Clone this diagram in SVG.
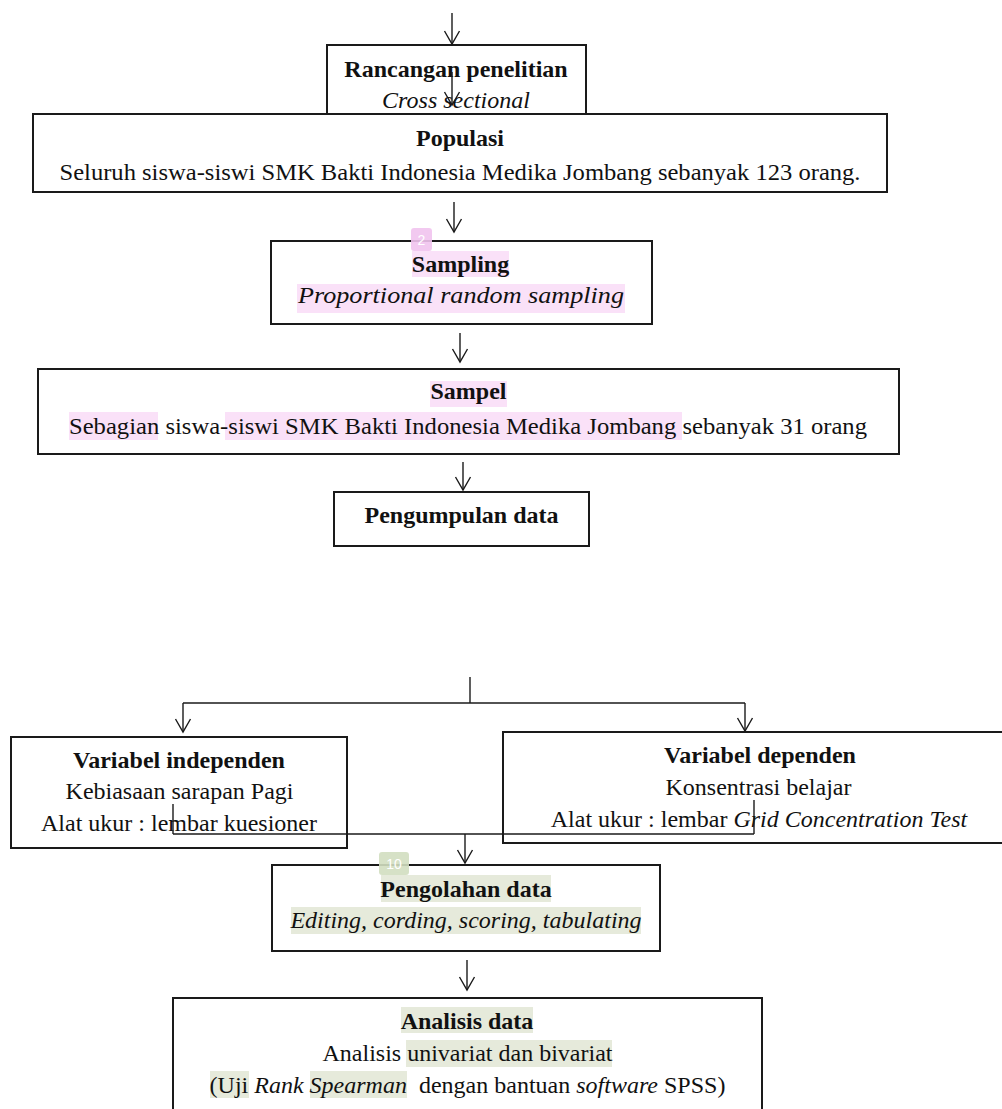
<svg xmlns="http://www.w3.org/2000/svg" width="1002" height="1109" viewBox="0 0 1002 1109">
<style>
  .box{fill:none;stroke:#1a1a1a;stroke-width:2}
  .conn{fill:none;stroke:#1a1a1a;stroke-width:1.4}
  .t{font-family:"Liberation Serif","Times New Roman",serif;font-size:24px;fill:#111;text-anchor:middle}
  .b{font-weight:bold}
  .i{font-style:italic}
  .hp{fill:#fae1f8}
  .hg{fill:#e6eadb}
  .badge{font-family:"Liberation Sans",Arial,sans-serif;font-size:14px;fill:#fff;text-anchor:middle}
</style>
<defs>
  <marker id="arr" markerUnits="userSpaceOnUse" markerWidth="20" markerHeight="20" viewBox="-15 -10 17 20" refX="0" refY="0" orient="auto" overflow="visible">
    <path d="M-13,-7.5 L0,0 L-13,7.5" fill="none" stroke="#1a1a1a" stroke-width="1.4"/>
  </marker>
</defs>
<rect width="1002" height="1109" fill="#fff"/>

<g id="rancangan">
  <rect class="box" x="327" y="45" width="259" height="69"/>
  <text class="t b" x="456" y="77">Rancangan penelitian</text>
  <text class="t i" x="456" y="108">Cross sectional</text>
</g>

<g id="populasi">
  <rect class="box" x="33" y="114" width="854" height="78"/>
  <text class="t b" x="460" y="146">Populasi</text>
  <text class="t" x="460" y="180" textLength="801" lengthAdjust="spacingAndGlyphs">Seluruh siswa-siswi SMK Bakti Indonesia Medika Jombang sebanyak 123 orang.</text>
</g>

<g id="sampling">
  <rect class="hp" x="412" y="251" width="97" height="26"/>
  <rect class="hp" x="297" y="284" width="328" height="29"/>
  <rect class="box" x="271" y="241" width="381" height="83"/>
  <text class="t b" x="460.5" y="272">Sampling</text>
  <text class="t i" x="461" y="303" textLength="326" lengthAdjust="spacingAndGlyphs">Proportional random sampling</text>
</g>

<g id="sampel">
  <rect class="hp" x="430" y="381" width="77" height="26"/>
  <rect class="hp" x="69" y="412" width="89" height="28"/>
  <rect class="hp" x="225" y="412" width="457" height="28"/>
  <rect class="box" x="38" y="369" width="861" height="85"/>
  <text class="t b" x="468.5" y="399">Sampel</text>
  <text class="t" x="468" y="434" textLength="798" lengthAdjust="spacingAndGlyphs">Sebagian siswa-siswi SMK Bakti Indonesia Medika Jombang sebanyak 31 orang</text>
</g>

<g id="pengumpulan">
  <rect class="box" x="334" y="492" width="255" height="54"/>
  <text class="t b" x="461.5" y="523">Pengumpulan data</text>
</g>

<g id="var-independen">
  <rect class="box" x="11" y="737" width="336" height="111"/>
  <text class="t b" x="179" y="768">Variabel independen</text>
  <text class="t" x="179.5" y="799">Kebiasaan sarapan Pagi</text>
  <text class="t" x="179" y="831">Alat ukur : lembar kuesioner</text>
</g>

<g id="var-dependen">
  <rect class="box" x="503" y="732" width="510" height="111"/>
  <text class="t b" x="760" y="763">Variabel dependen</text>
  <text class="t" x="758.5" y="795">Konsentrasi belajar</text>
  <text class="t" x="759" y="827">Alat ukur : lembar <tspan class="i">Grid Concentration Test</tspan></text>
</g>

<g id="pengolahan">
  <rect class="hg" x="381" y="875" width="170" height="27"/>
  <rect class="hg" x="291" y="907" width="350" height="27"/>
  <rect class="box" x="272" y="865" width="388" height="86"/>
  <text class="t b" x="466" y="897">Pengolahan data</text>
  <text class="t i" x="466" y="928">Editing, cording, scoring, tabulating</text>
</g>

<g id="analisis">
  <rect class="hg" x="401" y="1007" width="132" height="26"/>
  <rect class="hg" x="406" y="1040" width="206" height="27"/>
  <rect class="hg" x="210" y="1071" width="39" height="27"/>
  <rect class="hg" x="310" y="1071" width="97" height="27"/>
  <rect class="box" x="173" y="998" width="589" height="130"/>
  <text class="t b" x="467" y="1029">Analisis data</text>
  <text class="t" x="467.5" y="1061">Analisis univariat dan bivariat</text>
  <text class="t" x="467.5" y="1093" xml:space="preserve">(Uji <tspan class="i">Rank Spearman</tspan>  dengan bantuan <tspan class="i">software</tspan> SPSS)</text>
</g>

<g id="connectors">
  <line class="conn" x1="452" y1="13" x2="452" y2="44" marker-end="url(#arr)"/>
  <line class="conn" x1="452" y1="72" x2="452" y2="105" marker-end="url(#arr)"/>
  <line class="conn" x1="454" y1="202" x2="454" y2="232" marker-end="url(#arr)"/>
  <line class="conn" x1="460" y1="333" x2="460" y2="362" marker-end="url(#arr)"/>
  <line class="conn" x1="463" y1="462" x2="463" y2="490" marker-end="url(#arr)"/>
  <line class="conn" x1="470" y1="677" x2="470" y2="703"/>
  <line class="conn" x1="183" y1="703" x2="745" y2="703"/>
  <line class="conn" x1="183" y1="703" x2="183" y2="732" marker-end="url(#arr)"/>
  <line class="conn" x1="745" y1="703" x2="745" y2="731" marker-end="url(#arr)"/>
  <line class="conn" x1="173" y1="804" x2="173" y2="834"/>
  <line class="conn" x1="173" y1="834" x2="754" y2="834"/>
  <line class="conn" x1="754" y1="800" x2="754" y2="834"/>
  <line class="conn" x1="465" y1="834" x2="465" y2="863" marker-end="url(#arr)"/>
  <line class="conn" x1="467" y1="960" x2="467" y2="990" marker-end="url(#arr)"/>
</g>

<g id="badges">
  <rect x="411" y="228" width="21" height="23" rx="3" fill="#f1c3ee" opacity="0.9"/>
  <text class="badge" x="421.5" y="245">2</text>
  <rect x="379" y="852" width="30" height="23" rx="3" fill="#d2dec0" opacity="0.9"/>
  <text class="badge" x="394" y="869">10</text>
</g>
</svg>
